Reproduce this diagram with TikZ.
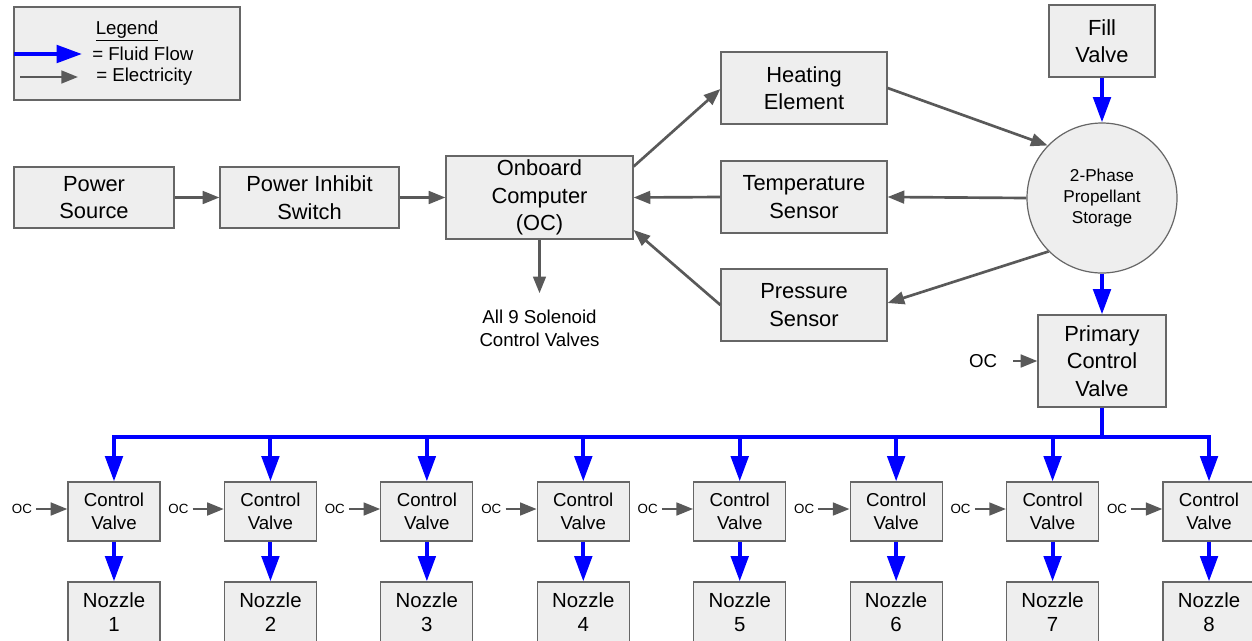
\documentclass[tikz,border=0pt]{standalone}
\usepackage{fontspec}
\setmainfont{Liberation Sans}
\usetikzlibrary{arrows.meta,calc}

\definecolor{boxfill}{HTML}{EEEEEE}
\definecolor{boxline}{HTML}{666666}
\definecolor{wire}{HTML}{595959}
\definecolor{fluid}{HTML}{0000FF}

\tikzset{
  block/.style={draw=boxline, fill=boxfill, line width=0.9pt, align=center,
    inner sep=0pt, text=black},
  bigtxt/.style={font=\fontsize{16.4}{20.6}\selectfont},
  midtxt/.style={font=\fontsize{14}{17.5}\selectfont},
  nozztxt/.style={font=\fontsize{15.3}{18}\selectfont},
  smalltxt/.style={font=\fontsize{12.9}{15.75}\selectfont},
  tinytxt/.style={font=\fontsize{10}{12}\selectfont},
  elec/.style={draw=wire, line width=2pt,
    -{Triangle[length=12.5pt,width=9.5pt]}},
  flow/.style={draw=fluid, line width=3pt,
    -{Triangle[length=19pt,width=13pt]}},
  pipe/.style={draw=fluid, line width=3pt},
  valvebox/.style={block, midtxt, minimum width=69pt, minimum height=44.25pt},
  nozzbox/.style={block, nozztxt, minimum width=69pt, minimum height=45pt},
}

\begin{document}
\begin{tikzpicture}[x=0.75pt, y=-0.75pt]
\useasboundingbox (0,0) rectangle (1252,640);

% legend
\node[block, minimum width=169.5pt, minimum height=69.75pt] (leg) at (127,53.5) {};
\node[midtxt] (legtitle) at (127,31) {\underline{Legend}};
\coordinate (legflowA) at (14,54);
\coordinate (legflowB) at (82,54);
\coordinate (legelecA) at (20,77);
\coordinate (legelecB) at (78,77);
\draw[flow] (legflowA) -- (legflowB);
\draw[elec] (legelecA) -- (legelecB);
\node[midtxt, anchor=west, inner sep=0pt] (legflow) at (92,54) {= Fluid Flow};
\node[midtxt, anchor=west, inner sep=0pt] (legelec) at (96,77) {= Electricity};

% power chain and computer
\node[block, bigtxt, minimum width=120pt, minimum height=45.75pt] (psrc) at (94,197.5) {Power\\Source};
\node[block, bigtxt, minimum width=134.25pt, minimum height=45.75pt] (pinh) at (309.5,197.5) {Power Inhibit\\Switch};
\node[block, bigtxt, minimum width=140.25pt, minimum height=62.25pt] (oc) at (539.5,197.5) {Onboard\\Computer\\(OC)};
\node[midtxt, align=center, inner ysep=12pt] (sol) at (539.5,328) {All 9 Solenoid\\Control Valves};

% sensors and heater
\node[block, bigtxt, minimum width=124.5pt, minimum height=54pt] (heat) at (804,88) {Heating\\Element};
\node[block, bigtxt, minimum width=124.5pt, minimum height=54pt] (temp) at (804,197) {Temperature\\Sensor};
\node[block, bigtxt, minimum width=124.5pt, minimum height=54pt] (pres) at (804,305) {Pressure\\Sensor};

% tank side
\node[block, bigtxt, minimum width=79.5pt, minimum height=54pt] (fill) at (1102,41) {Fill\\Valve};
\node[block, smalltxt, circle, minimum size=112.5pt] (store) at (1102,198) {2-Phase\\Propellant\\Storage};
\node[block, bigtxt, minimum width=96pt, minimum height=69pt] (prim) at (1102,361) {Primary\\Control\\Valve};
\node[midtxt, inner sep=0pt] (primoc) at (983,361) {OC};

% electrical links
\draw[elec] (psrc) -- (pinh);
\draw[elec] (pinh) -- (oc);
\draw[elec] ($(oc.east)+(0,-31)$) -- ($(heat.west)+(0,1)$);
\draw[elec] (heat.east) -- (store.136);
\draw[elec] (store.west) -- (temp.east);
\draw[elec] (temp.west) -- (oc.east);
\draw[elec] (store.225) -- ($(pres.east)+(0,-2)$);
\draw[elec] (pres.west) -- ($(oc.east)+(0,32.5)$);
\draw[elec] (oc.south) -- (oc.south |- sol.north);
\draw[elec] ($(primoc.east)+(16,0)$) -- (primoc.east -| prim.west);

% fluid path to the manifold
\draw[flow] (fill.south) -- (store.north);
\draw[flow] (store.south) -- (prim.north);
\coordinate (bus) at (1102,437);
\draw[pipe] (prim.south) -- (bus);

% eight valve and nozzle columns
\foreach \i in {1,...,8} {
  \pgfmathsetmacro{\cx}{114+(\i-1)*156.43}
  \node[valvebox] (v\i) at (\cx,511.5) {Control\\Valve};
  \node[nozzbox] (n\i) at (\cx,612) {Nozzle\\\i};
  \node[tinytxt, inner sep=0pt] (oc\i) at (\cx-92,509) {OC};
  \draw[elec] ($(oc\i.east)+(4,0)$) -- (oc\i.east -| v\i.west);
  \draw[flow] (v\i.north |- bus) -- (v\i.north);
  \draw[flow] (v\i.south) -- (n\i.north);
}
\draw[pipe, line cap=rect] (v1.north |- bus) -- (v8.north |- bus);
\end{tikzpicture}
\end{document}
